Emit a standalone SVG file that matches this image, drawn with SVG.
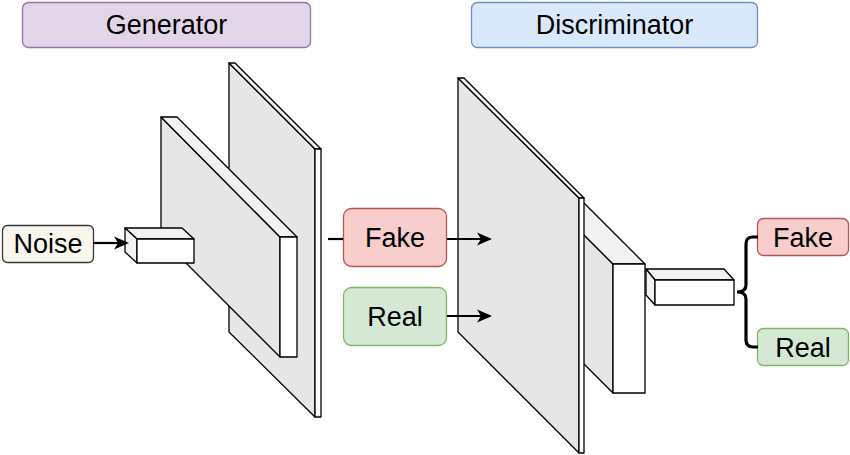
<svg xmlns="http://www.w3.org/2000/svg" width="850" height="455" viewBox="0 0 850 455">
<defs>
<path id="head" d="M-15,-6.5 L0,0 L-15,6.5 L-11,0 z" fill="#000"/>
</defs>
<style>
text{font-family:"Liberation Sans",Arial,sans-serif;font-size:27px;fill:#000;text-anchor:middle;dominant-baseline:central}
.face{fill:#e6e6e6;stroke:#000;stroke-width:1.3;stroke-linejoin:round}
.top{fill:#f2f2f2;stroke:#000;stroke-width:1.3;stroke-linejoin:round}
.front{fill:#fff;stroke:#000;stroke-width:1.3;stroke-linejoin:round}
.conn{fill:none;stroke:#000;stroke-width:2.2}
.brace{fill:none;stroke:#000;stroke-width:3.2}
</style>
<rect width="850" height="455" fill="#fff"/>
<g id="generator-label">
<rect x="22.5" y="2.5" width="288" height="45" rx="6" fill="#e1d5e7" stroke="#9673a6" stroke-width="1.3"/>
<text x="166.5" y="25">Generator</text>
</g>
<g id="discriminator-label">
<rect x="471.5" y="2.5" width="286" height="45" rx="6" fill="#dae8fc" stroke="#6c8ebf" stroke-width="1.3"/>
<text x="614.5" y="25">Discriminator</text>
</g>
<g id="gen-layer2">
<polygon class="face" points="229,63 315,149 315,417 229,332"/>
<polygon class="top" points="229,63 235,63 321,149 315,149"/>
<polygon class="front" points="315,149 321,149 321,417 315,417"/>
</g>
<g id="gen-layer1">
<polygon class="face" points="161,117 280,237 280,357 161,238"/>
<polygon class="top" points="161,117 177,117 297,237 280,237"/>
<polygon class="front" points="280,237 297,237 297,357 280,357"/>
</g>
<g id="gen-input">
<polygon class="top" points="125,228 182,228 194,239 137,239"/>
<polygon class="top" points="125,228 137,239 137,263 125,252"/>
<polygon class="front" points="137,239 194,239 194,263 137,263"/>
</g>
<g id="noise">
<rect x="2.5" y="225.5" width="91" height="37" rx="5" fill="#f9f7ed" stroke="#36393d" stroke-width="1.3"/>
<text x="48" y="244">Noise</text>
</g>
<g id="disc-layer2">
<polygon class="face" points="540,191 613,264 613,393 540,320"/>
<polygon class="top" points="540,191 572,191 645,264 613,264"/>
<polygon class="front" points="613,264 645,264 645,393 613,393"/>
</g>
<g id="disc-layer1">
<polygon class="face" points="458,78 579,198 579,453 458,332"/>
<polygon class="top" points="458,78 464,78 584,198 579,198"/>
<polygon class="front" points="579,198 584,198 584,453 579,453"/>
</g>
<g id="disc-output">
<polygon class="top" points="646,269 724,269 734,280 655,280"/>
<polygon class="top" points="646,269 655,280 655,305 646,295"/>
<polygon class="front" points="655,280 734,280 734,305 655,305"/>
</g>
<g id="fake-mid">
<rect x="343.5" y="208.5" width="103" height="58" rx="8" fill="#f8cecc" stroke="#b85450" stroke-width="1.3"/>
<text x="395" y="238">Fake</text>
</g>
<g id="real-mid">
<rect x="343.5" y="287.5" width="103" height="58" rx="8" fill="#d5e8d4" stroke="#82b366" stroke-width="1.3"/>
<text x="395" y="317">Real</text>
</g>
<g id="fake-out">
<rect x="757.5" y="218.5" width="91" height="37" rx="6" fill="#f8cecc" stroke="#b85450" stroke-width="1.3"/>
<text x="803" y="238">Fake</text>
</g>
<g id="real-out">
<rect x="757.5" y="328.5" width="91" height="37" rx="6" fill="#d5e8d4" stroke="#82b366" stroke-width="1.3"/>
<text x="803" y="348">Real</text>
</g>
<g id="connectors">
<line class="conn" x1="93" y1="243" x2="120" y2="243"/>
<use href="#head" x="129" y="243"/>
<line class="conn" x1="328" y1="239" x2="343" y2="239"/>
<line class="conn" x1="447" y1="239" x2="482" y2="239"/>
<use href="#head" x="492" y="239"/>
<line class="conn" x1="447" y1="316" x2="482" y2="316"/>
<use href="#head" x="492" y="316"/>
<path class="brace" d="M758,237 L753,237 Q746,237 746,244 L746,285 Q746,292 737,292 Q746,292 746,299 L746,340 Q746,347 753,347 L758,347"/>
</g>
</svg>
